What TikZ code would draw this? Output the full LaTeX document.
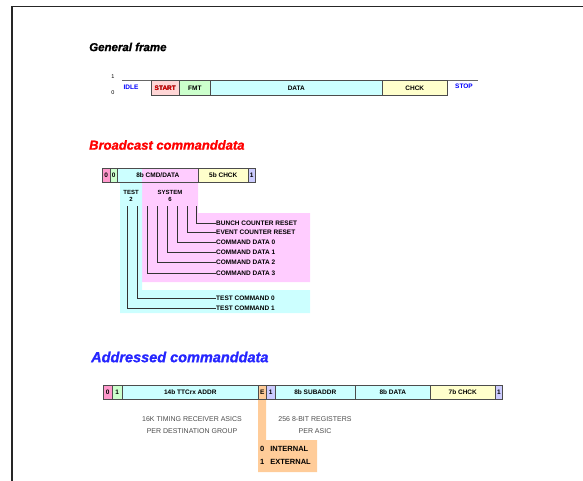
\documentclass[tikz,border=0pt]{standalone}
\usepackage{fontspec}
\setmainfont{Liberation Sans}[BoldItalicFeatures={FakeBold=1.2}]
\definecolor{fred}{RGB}{255,153,204}
\definecolor{fpink}{RGB}{255,214,214}
\definecolor{fgreen}{RGB}{204,255,204}
\definecolor{fcyan}{RGB}{204,255,255}
\definecolor{fyellow}{RGB}{255,255,204}
\definecolor{fmag}{RGB}{255,204,255}
\definecolor{flav}{RGB}{204,204,255}
\definecolor{forange}{RGB}{255,204,153}
\begin{document}
\begin{tikzpicture}[x=1pt,y=-1pt,font=\fontsize{6.5}{7}\selectfont\bfseries]
	\tikzset{ttl/.style={anchor=west,inner sep=0pt,font=\fontsize{11.5}{13}\selectfont\bfseries\itshape},
		fld/.style={draw=black!70,line width=0.6pt,inner sep=0pt,anchor=north west},
		bit/.style={draw=black!80,line width=0.4pt},
		item/.style={anchor=west,inner sep=0pt},
		note/.style={inner sep=0pt,align=center,font=\fontsize{7}{12}\selectfont,text=black!70}}
	\useasboundingbox (0,0) rectangle (583,481);
	\draw[line width=1.4pt,black!85] (12,481) -- (12,6.5) -- (583,6.5);
	% general frame
	\node[ttl] (gen) at (89,47) {General frame};
	\node[font=\fontsize{5.5}{6}\selectfont] (one) at (113,77) {1};
	\node[font=\fontsize{5.5}{6}\selectfont] (zero) at (113,93) {0};
	\draw[black!60,line width=0.6pt] (122,80) -- (478,80);
	\node[text=blue] (idle) at (131,87) {IDLE};
	\foreach \l/\r/\c/\t [count=\i] in {151/179/fpink/START,179/210/fgreen/FMT,210/382/fcyan/DATA,382/447/fyellow/CHCK}
	\node[fld,fill=\c,minimum width=\r-\l,minimum height=15] (g\i) at (\l,80) {\t};
	\node[text=red] at (g1) {START};
	\node[text=blue] (stop) at (464,86) {STOP};
	% broadcast
	\node[ttl,text=red,font=\fontsize{13}{15}\selectfont\bfseries\itshape] (brc) at (89,145) {Broadcast commanddata};
	\fill[fmag] (142,182) -- (198,182) -- (198,213) -- (310,213) -- (310,282) -- (142,282) -- cycle;
	\fill[fcyan] (120,182) -- (142,182) -- (142,290) -- (310,290) -- (310,313) -- (120,313) -- cycle;
	\fill[fcyan] (117,168) rectangle (142,182);
	\fill[fmag] (142,168) rectangle (198,182);
	\node[fld,minimum width=81,minimum height=14] (cmd) at (117,168) {8b CMD/DATA};
	\foreach \l/\r/\c/\t [count=\i] in {102/110/fred/0,110/117/fgreen/0,198/248/fyellow/5b CHCK,248/255/flav/1}
	\node[fld,fill=\c,minimum width=\r-\l,minimum height=14] (b\i) at (\l,168) {\t};
	\node[align=center,font=\fontsize{6}{7.5}\selectfont\bfseries] (tst) at (131,196) {TEST\\2};
	\node[align=center,font=\fontsize{6}{7.5}\selectfont\bfseries] (sys) at (170,196) {SYSTEM\\6};
	\foreach \t/\x/\y [count=\i] in {BUNCH COUNTER RESET/196/223,EVENT COUNTER RESET/187/232,COMMAND DATA 0/177/242,COMMAND DATA 1/167/252,COMMAND DATA 2/157/262,COMMAND DATA 3/147/273,TEST COMMAND 0/137/298,TEST COMMAND 1/127/308}{
		\coordinate (c\i) at (\x,206);
		\node[item] (p\i) at (216,\y) {\t};
		\draw[bit] (c\i) |- (p\i.west);
	}
	% addressed
	\node[ttl,text=blue!85!white,font=\fontsize{14.5}{16}\selectfont\bfseries\itshape] (adr) at (91,357) {Addressed commanddata};
	\fill[forange] (258,399) -- (266,399) -- (266,440) -- (317,440) -- (317,472) -- (258,472) -- cycle;
	\foreach \l/\r/\c/\t [count=\i] in {103/112/fred/0,112/122/fgreen/1,122/258/fcyan/14b TTCrx ADDR,258/266/forange/E,266/275/flav/1,275/355/fcyan/8b SUBADDR,355/430/fcyan/8b DATA,430/495/fyellow/7b CHCK,495/502/flav/1}
	\node[fld,fill=\c,minimum width=\r-\l,minimum height=14] (a\i) at (\l,385) {\t};
	\node[note] (asic) at (192,425) {16K TIMING RECEIVER ASICS\\PER DESTINATION GROUP};
	\node[note] (regs) at (315,425) {256 8-BIT REGISTERS\\PER ASIC};
	\node[item,font=\fontsize{7.5}{8}\selectfont\bfseries] (int) at (260,449) {0\hspace{6pt}INTERNAL};
	\node[item,font=\fontsize{7.5}{8}\selectfont\bfseries] (ext) at (260,462) {1\hspace{6pt}EXTERNAL};
\end{tikzpicture}
\end{document}
